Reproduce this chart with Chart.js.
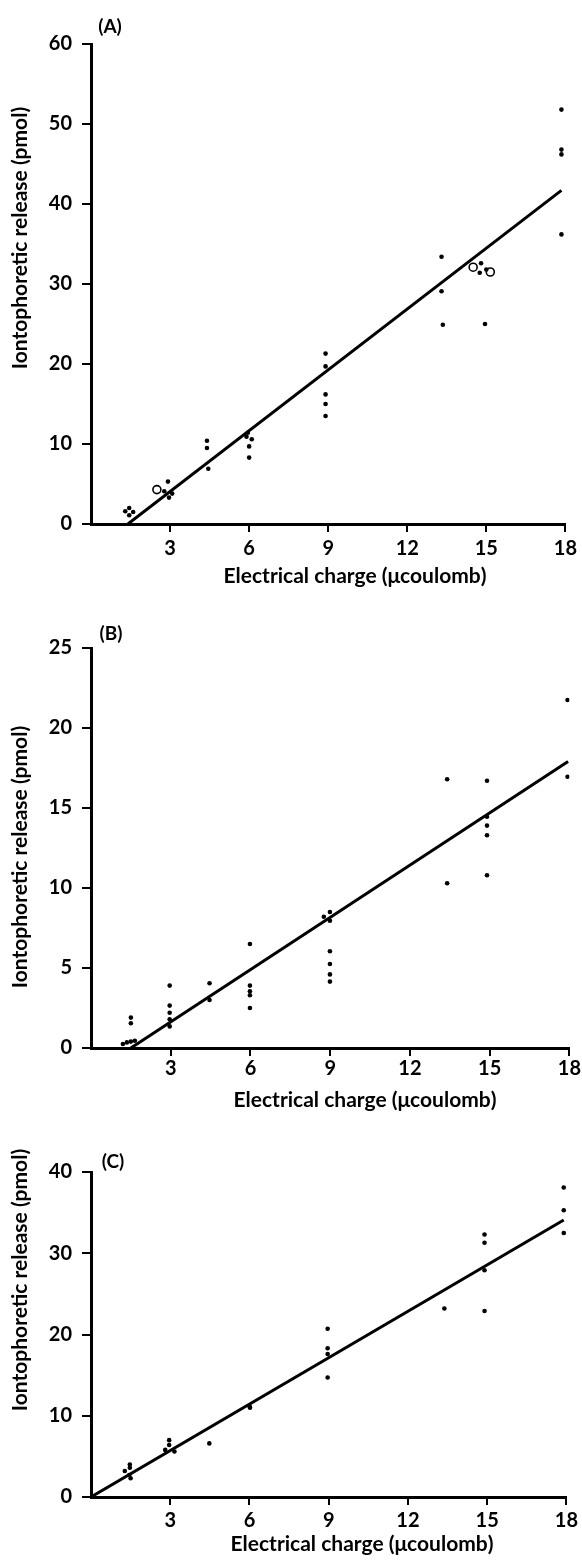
<!DOCTYPE html>
<html>
<head>
<meta charset="utf-8">
<script src="https://cdn.jsdelivr.net/npm/chart.js@4.4.1/dist/chart.umd.min.js"></script>
<style>
  html, body { margin: 0; padding: 0; background: #fff; }
  body { width: 582px; height: 1560px; position: relative; overflow: hidden; }
  .panel { position: absolute; left: 0; width: 582px; }
</style>
</head>
<body>
<div class="panel" style="top:0;height:600px"><canvas id="chartA"></canvas></div>
<div class="panel" style="top:600px;height:520px"><canvas id="chartB"></canvas></div>
<div class="panel" style="top:1120px;height:440px"><canvas id="chartC"></canvas></div>
<script>
// ticks shared by all panels
const chargeTicks = [3, 6, 9, 12, 15, 18];
const ticksA = [0, 10, 20, 30, 40, 50, 60];
const ticksB = [0, 5, 10, 15, 20, 25];
const ticksC = [0, 10, 20, 30, 40];

// (A) filled dots
const dotsAx = [1.3, 1.45, 1.6, 1.45, 2.92, 2.78, 3.08, 2.96, 4.4, 4.4, 4.45, 5.95, 5.9, 6.1, 6.0, 6.0,
                8.9, 8.9, 8.9, 8.9, 8.9, 13.3, 13.3, 13.35, 14.8, 14.75, 15.0, 14.95, 17.85, 17.85, 17.85, 17.85];
const dotsAy = [1.6, 2.0, 1.5, 1.1, 5.3, 4.1, 3.8, 3.3, 10.4, 9.5, 6.9, 11.4, 10.9, 10.6, 9.7, 8.3,
                21.3, 19.7, 16.2, 15.0, 13.5, 33.4, 29.1, 24.9, 32.6, 31.4, 31.8, 25.0, 51.8, 46.8, 46.2, 36.2];
// (A) open circles
const openAx = [2.5, 14.5, 15.15];
const openAy = [4.3, 32.1, 31.5];
// (A) fitted line
const lineAx = [1.4, 17.85];
const lineAy = [0, 41.7];

// (B)
const dotsBx = [1.2, 1.35, 1.5, 1.65, 1.5, 1.5, 2.96, 2.96, 2.96, 2.96, 2.96, 4.46, 4.46,
                5.98, 5.98, 5.98, 5.98, 5.98, 8.99, 8.76, 8.99, 8.99, 8.99, 8.99, 8.99,
                13.4, 13.4, 14.9, 14.9, 14.9, 14.9, 14.9, 17.93, 17.93];
const dotsBy = [0.25, 0.35, 0.4, 0.45, 1.9, 1.55, 3.9, 2.65, 2.2, 1.8, 1.35, 4.05, 3.0,
                6.5, 3.9, 3.55, 3.3, 2.5, 8.5, 8.2, 7.95, 6.05, 5.25, 4.6, 4.15,
                16.8, 10.3, 16.7, 14.45, 13.9, 13.3, 10.8, 21.75, 16.95];
const lineBx = [1.5, 17.95];
const lineBy = [0, 17.9];

// (C)
const dotsCx = [1.28, 1.47, 1.47, 1.45, 1.5, 2.81, 2.96, 2.96, 3.16, 4.48, 6.0, 6.02,
                8.96, 8.96, 8.96, 8.96, 13.38, 14.9, 14.9, 14.9, 14.9, 17.9, 17.9, 17.9];
const dotsCy = [3.2, 4.0, 3.6, 2.7, 2.3, 5.8, 7.0, 6.4, 5.6, 6.6, 11.2, 11.0,
                20.7, 18.3, 17.6, 14.7, 23.2, 32.3, 31.3, 27.9, 22.9, 38.1, 35.3, 32.5];
const lineCx = [0, 17.9];
const lineCy = [0, 34.1];

const FONT = 'Lato, "DejaVu Sans", sans-serif';
const xTitle = 'Electrical charge (\u03bccoulomb)';
const yTitle = 'Iontophoretic release (pmol)';

function pts(xs, ys) {
    return xs.map((x, i) => ({x: x, y: ys[i]}));
}

// panel letter and both axis titles
const panelText = {
    id: 'panelText',
    afterDraw(chart, args, opts) {
        const ctx = chart.ctx;
        ctx.save();
        ctx.fillStyle = '#000';
        ctx.textAlign = 'center';
        ctx.textBaseline = 'middle';
        ctx.font = 'bold 19px ' + FONT;
        ctx.fillText(opts.label, opts.labelX, opts.labelY);
        ctx.font = 'bold 21px ' + FONT;
        ctx.fillText(xTitle, opts.xTitleX, opts.xTitleY);
        ctx.translate(opts.yTitleX, opts.yTitleY);
        ctx.rotate(-Math.PI / 2);
        ctx.fillText(yTitle, 0, 0);
        ctx.restore();
    }
};

function makeChart(id, c) {
    const datasets = [
        {data: pts(c.dotsX, c.dotsY), pointRadius: 2.3, pointBackgroundColor: '#000', pointBorderWidth: 0},
        {data: pts(c.lineX, c.lineY), showLine: true, borderColor: '#000', borderWidth: 3, pointRadius: 0}
    ];
    if (c.openX) {
        datasets.push({data: pts(c.openX, c.openY), pointRadius: 4, pointBackgroundColor: '#fff',
                       pointBorderColor: '#000', pointBorderWidth: 1.6});
    }
    return new Chart(document.getElementById(id), {
        type: 'scatter',
        data: {datasets: datasets},
        options: {
            responsive: true,
            maintainAspectRatio: false,
            animation: false,
            layout: {padding: {top: c.top, right: 11, left: 0, bottom: 0}},
            plugins: {
                legend: {display: false},
                tooltip: {enabled: false},
                panelText: c.text
            },
            scales: {
                x: {
                    type: 'linear', min: 0, max: 18,
                    afterBuildTicks: s => { s.ticks = chargeTicks.map(v => ({value: v})); },
                    afterFit: s => { s.height = c.xh; },
                    grid: {drawOnChartArea: false, drawTicks: true, tickLength: 8, color: '#000', lineWidth: 2},
                    border: {display: true, color: '#000', width: 3},
                    ticks: {color: '#000', padding: c.xpad, maxRotation: 0, font: {family: FONT, size: 20, weight: 'bold'}}
                },
                y: {
                    type: 'linear', min: 0, max: c.yTicks[c.yTicks.length - 1],
                    afterBuildTicks: s => { s.ticks = c.yTicks.map(v => ({value: v})); },
                    afterFit: s => { s.width = 91; },
                    grid: {drawOnChartArea: false, drawTicks: true, tickLength: 9, color: '#000', lineWidth: 2},
                    border: {display: true, color: '#000', width: 3},
                    ticks: {color: '#000', padding: 10, font: {family: FONT, size: 20, weight: 'bold'}}
                }
            }
        },
        plugins: [panelText]
    });
}

makeChart('chartA', {
    dotsX: dotsAx, dotsY: dotsAy, openX: openAx, openY: openAy, lineX: lineAx, lineY: lineAy,
    yTicks: ticksA, top: 44, xh: 76, xpad: 5,
    text: {label: '(A)', labelX: 110, labelY: 27, xTitleX: 355, xTitleY: 576, yTitleX: 20, yTitleY: 238}
});
makeChart('chartB', {
    dotsX: dotsBx, dotsY: dotsBy, lineX: lineBx, lineY: lineBy,
    yTicks: ticksB, top: 48, xh: 72, xpad: 1,
    text: {label: '(B)', labelX: 111, labelY: 34, xTitleX: 365, xTitleY: 500, yTitleX: 20, yTitleY: 257}
});
makeChart('chartC', {
    dotsX: dotsCx, dotsY: dotsCy, lineX: lineCx, lineY: lineCy,
    yTicks: ticksC, top: 52, xh: 63, xpad: 4,
    text: {label: '(C)', labelX: 113, labelY: 42, xTitleX: 362, xTitleY: 424, yTitleX: 20, yTitleY: 160}
});
</script>
</body>
</html>
